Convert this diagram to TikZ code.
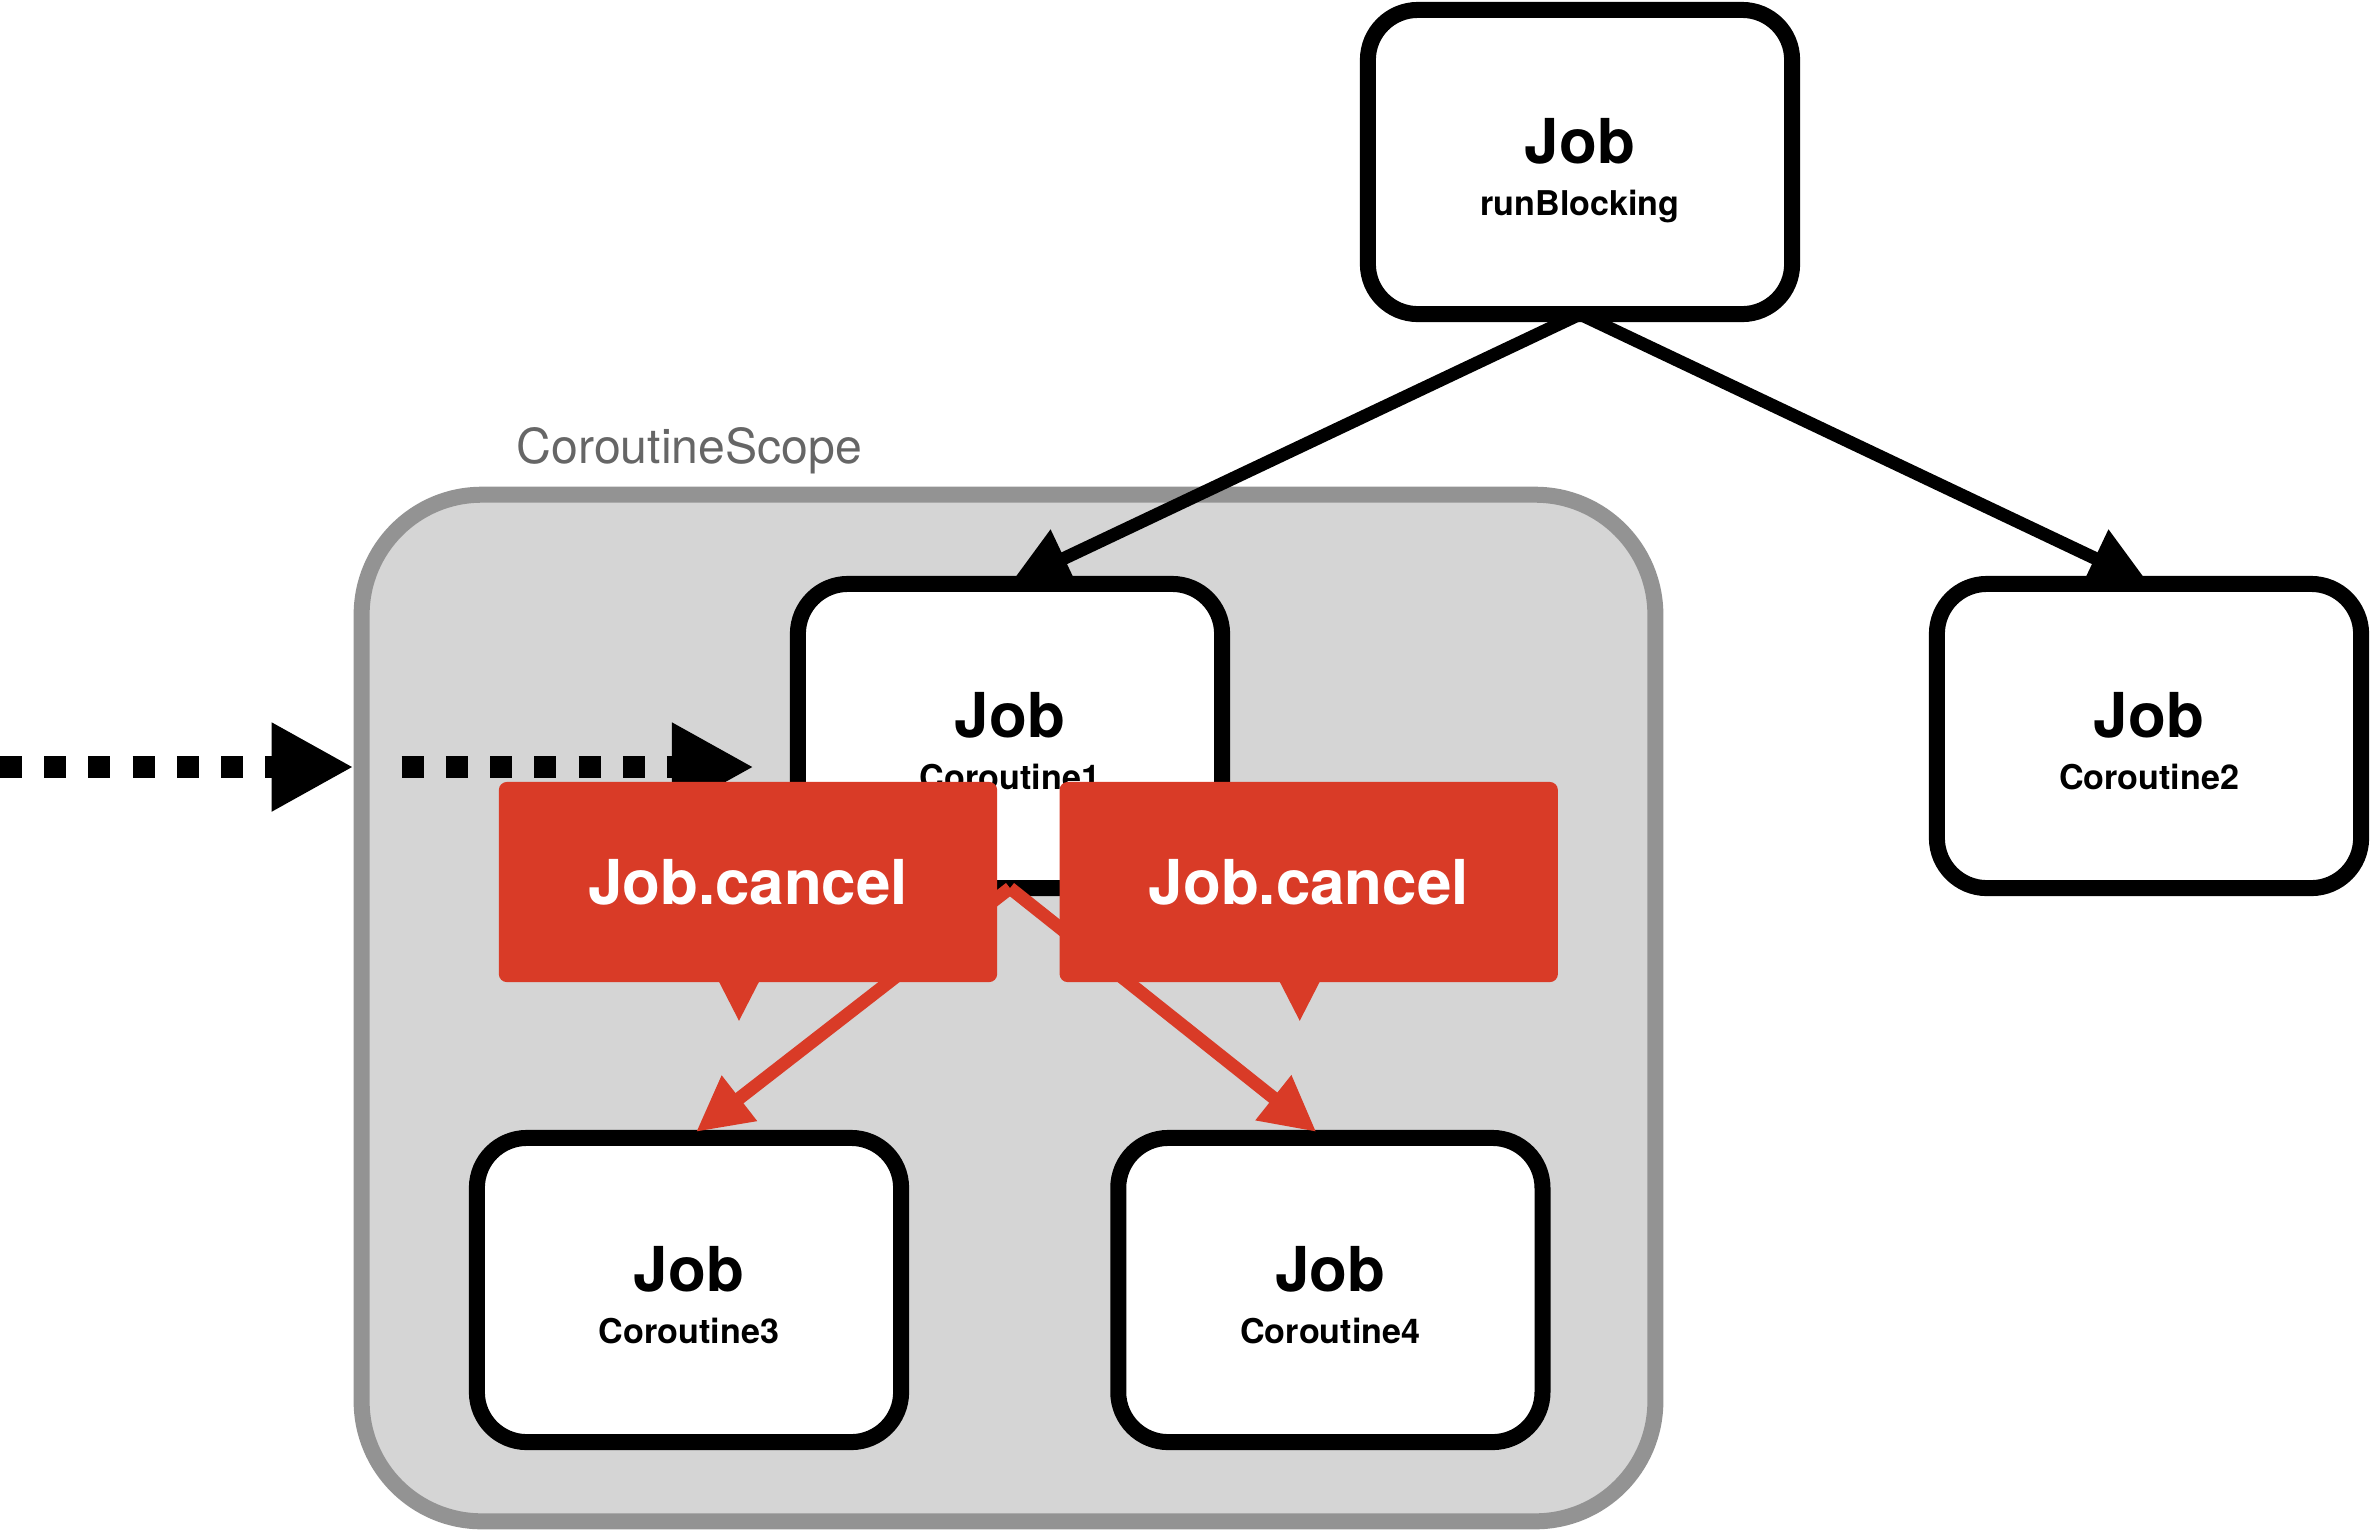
\documentclass[tikz,border=0pt]{standalone}
\usepackage{fontspec}
\setmainfont{TeX Gyre Heros}
\usetikzlibrary{positioning,arrows.meta,calc,backgrounds}

\definecolor{cancelred}{HTML}{D93B27}
\definecolor{scopefill}{HTML}{D5D5D5}
\definecolor{scopeline}{HTML}{939393}
\definecolor{scopetext}{HTML}{666666}

\newcommand{\jobtext}[1]{\rule{0pt}{18pt}{\fontsize{17.6}{14.8}\selectfont Job}\\#1\rule[-2.6pt]{0pt}{2.6pt}}

\begin{document}
\begin{tikzpicture}[
    x=0.01cm, y=-0.01cm,
    jobbox/.style={
        draw=black, line width=0.16cm,
        fill=white,
        rounded corners=0.5cm,
        outer sep=0pt,
        minimum width=4.24cm, minimum height=3.04cm,
        align=center,
        font=\fontsize{9.7}{14.8}\selectfont\bfseries
    },
    cancelbox/.style={
        fill=cancelred,
        rounded corners=0.08cm,
        minimum width=4.98cm, minimum height=2cm,
        text=white,
        font=\fontsize{17.6}{20}\selectfont\bfseries
    },
    scopebox/.style={
        draw=scopeline, line width=0.16cm,
        fill=scopefill,
        rounded corners=1.2cm,
        minimum width=12.93cm, minimum height=10.26cm
    },
    scopelabel/.style={
        text=scopetext, inner sep=0pt,
        font=\fontsize{13.7}{16}\selectfont
    },
    link/.style={
        draw=black, line width=0.13cm,
        -{Triangle[length=0.6cm, width=0.6cm]}
    },
    cancellink/.style={
        draw=cancelred, line width=0.13cm,
        -{Triangle[length=0.55cm, width=0.54cm]}
    },
    signal/.style={
        draw=black, line width=0.22cm,
        dash pattern=on 0.22cm off 0.222cm,
        -{Triangle[length=0.82cm, width=0.83cm]}
    }
]

\useasboundingbox (0,0) rectangle (2372,1532);

\node[jobbox] (rb) at (1580,162) {\jobtext{runBlocking}};
\node[jobbox] (c1) at (1010,736) {\jobtext{Coroutine1}};
\node[jobbox] (c2) at (2149,736) {\jobtext{Coroutine2}};
\node[jobbox] (c3) at (689,1290) {\jobtext{Coroutine3}};
\node[jobbox, right=2.17cm of c3] (c4) {\jobtext{Coroutine4}};

\begin{scope}[on background layer]
    \node[scopebox] (scope) at (1008.5,1008) {};
    \draw[link] (rb.south) -- (c1.north);
    \draw[link] (rb.south) -- (c2.north);
\end{scope}

\node[scopelabel, anchor=base west] (scopename) at (516,463) {CoroutineScope};

\coordinate (edge) at (0,767);
\draw[signal] (edge) -- (edge -| scope.west);
\draw[signal] ($(edge -| scope.west)+(48,0)$) -- ($(edge -| c1.west)+(-44,0)$);

\draw[cancellink] (c1.south) -- ($(c3.north)+(7,-6)$);
\draw[cancellink] (c1.south) -- ($(c4.north)+(-14,-6)$);

\node[cancelbox] (k1) at (748,882) {Job.cancel};
\node[cancelbox, right=0.61cm of k1] (k2) {Job.cancel};
\foreach \k in {k1,k2}
    \fill[cancelred] ($(\k.south)+(-29,-1)$) -- ($(\k.south)+(-9,38)$)
        -- ($(\k.south)+(11,-1)$) -- cycle;

\end{tikzpicture}
\end{document}
